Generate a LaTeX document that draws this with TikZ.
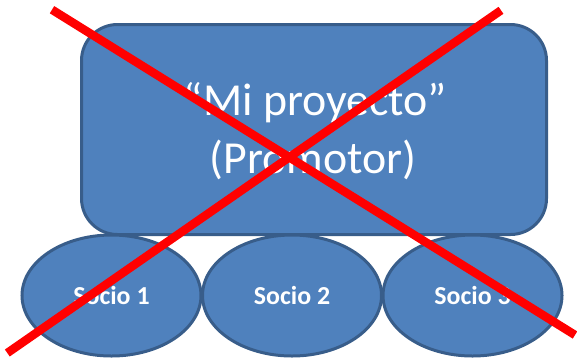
\documentclass[tikz,border=0pt]{standalone}
\usepackage{fontspec}
\setmainfont{Carlito}
\usetikzlibrary{shapes.geometric}
\definecolor{boxfill}{HTML}{4F81BD}
\definecolor{boxline}{HTML}{385D8A}
\begin{document}
\begin{tikzpicture}[x=1bp,y=-1bp,
  shapebox/.style={fill=boxfill,draw=boxline,line width=3bp},
  socio/.style={shapebox,ellipse,minimum width=179bp,minimum height=121bp,inner sep=0pt,
     text=white,font=\fontsize{26}{30}\selectfont\bfseries},
  bigtext/.style={text=white,font=\fontsize{46}{56}\selectfont,inner sep=0pt,anchor=base},
  cross/.style={draw=red,line width=8.5bp}]
\useasboundingbox (0,0) rectangle (577,358);
\draw[shapebox,rounded corners=36bp] (81.5,24.5) rectangle (546.5,234.5);
\node[bigtext] (t1) at (315.5,115) {“Mi proyecto”};
\node[bigtext] (t2) at (313,173) {(Promotor)};
\node[socio] (s1) at (111.5,295.5) {Socio 1};
\node[socio] (s2) at (292,295.5) {Socio 2};
\node[socio] (s3) at (472.5,295.5) {Socio 3};
\coordinate (a1) at (52,9.7);
\coordinate (a2) at (575,335);
\coordinate (b1) at (7.3,353);
\coordinate (b2) at (501,10.3);
\draw[cross] (a1) -- (a2);
\draw[cross] (b1) -- (b2);
\end{tikzpicture}
\end{document}
